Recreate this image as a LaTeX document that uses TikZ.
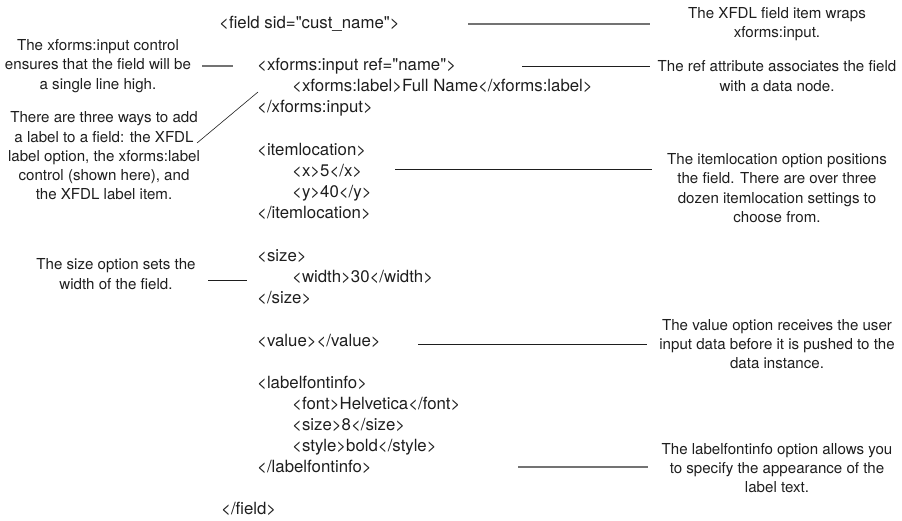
\documentclass[tikz,border=0pt]{standalone}
\usepackage{fontspec}
\setmainfont{TeX Gyre Heros}[Ligatures=TeXOff]
\usetikzlibrary{positioning}
\definecolor{leadgray}{RGB}{115,115,115}
\definecolor{inkdark}{RGB}{30,30,30}

\begin{document}
\begin{tikzpicture}[x=1pt,y=-1pt,
    code/.style={anchor=west,inner sep=0pt,text=inkdark,
      font=\fontsize{16.8}{20}\selectfont,text height=12pt,text depth=3.5pt},
    note/.style={align=center,inner sep=0pt,text=inkdark,
      font=\fontsize{15.1}{19.3}\selectfont},
    lead/.style={inkdark,line width=0.8pt},
    leadg/.style={leadgray,line width=1.4pt}]
  \useasboundingbox (0,0) rectangle (902,521);

  % the field item, line by line
  \node[code] (fld)     at (219,24)  {<field sid="cust\_name">};
  \node[code] (inp)     at (257,66)  {<xforms:input ref="name">};
  \node[code] (lbl)     at (292,87)  {<xforms:label>Full Name</xforms:label>};
  \node[code] (inpend)  at (257,108) {</xforms:input>};
  \node[code] (iloc)    at (257,151) {<itemlocation>};
  \node[code] (ilx)     at (292,172) {<x>5</x>};
  \node[code] (ily)     at (292,193) {<y>40</y>};
  \node[code] (ilocend) at (257,214) {</itemlocation>};
  \node[code] (sz)      at (257,257) {<size>};
  \node[code] (szw)     at (292,278) {<width>30</width>};
  \node[code] (szend)   at (257,299) {</size>};
  \node[code] (val)     at (257,342) {<value></value>};
  \node[code] (lfi)     at (257,384) {<labelfontinfo>};
  \node[code] (lff)     at (292,405) {<font>Helvetica</font>};
  \node[code] (lfs)     at (292,426) {<size>8</size>};
  \node[code] (lfst)    at (292,447) {<style>bold</style>};
  \node[code] (lfiend)  at (257,468) {</labelfontinfo>};
  \node[code] (fldend)  at (221,510) {</field>};

  % notes on the left
  \node[note] (ninp) at (98,66)  {The xforms:input control\\ensures that the field will be\\a single line high.};
  \node[note] (nlbl) at (104,156) {There are three ways to add\\a label to a field: the XFDL\\label option, the xforms:label\\control (shown here), and\\the XFDL label item.};
  \node[note] (nsz)  at (116,274) {The size option sets the\\width of the field.};

  % notes on the right
  \node[note] (nfld)  at (777,24)  {The XFDL field item wraps\\xforms:input.};
  \node[note] (nref)  at (777,76)  {The ref attribute associates the field\\with a data node.};
  \node[note] (niloc) at (777,188) {The itemlocation option positions\\the field. There are over three\\dozen itemlocation settings to\\choose from.};
  \node[note] (nval)  at (777,344) {The value option receives the user\\input data before it is pushed to the\\data instance.};
  \node[note] (nlfi)  at (777,468) {The labelfontinfo option allows you\\to specify the appearance of the\\label text.};

  % leader ends
  \coordinate (fldA)  at (468,24);  \coordinate (fldB)  at (650,24);
  \coordinate (inpA)  at (202,66);  \coordinate (inpB)  at (233,66);
  \coordinate (refA)  at (522,66);  \coordinate (refB)  at (650,66);
  \coordinate (lblA)  at (197,143); \coordinate (lblB)  at (258,92);
  \coordinate (ilocA) at (395,169); \coordinate (ilocB) at (652,169);
  \coordinate (szA)   at (208,280); \coordinate (szB)   at (247,280);
  \coordinate (valA)  at (418,344); \coordinate (valB)  at (647,344);
  \coordinate (lfiA)  at (518,467); \coordinate (lfiB)  at (648,467);

  \draw[leadg] (fldA) -- (fldB);
  \draw[leadg] (inpA) -- (inpB);
  \draw[lead] (refA) -- (refB);
  \draw[lead,line width=0.6pt] (lblA) -- (lblB);
  \draw[lead] (ilocA) -- (ilocB);
  \draw[lead] (szA) -- (szB);
  \draw[lead] (valA) -- (valB);
  \draw[leadg] (lfiA) -- (lfiB);
\end{tikzpicture}
\end{document}
